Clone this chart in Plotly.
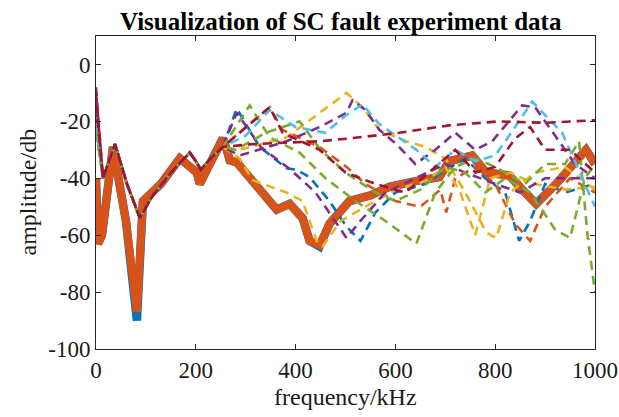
import plotly.graph_objects as go

# ---------------- data ----------------
thick_x = [0, 4, 12, 34, 60, 82, 94, 130, 168, 190, 202, 208, 230, 254, 262, 268, 282, 330, 362, 388, 414, 428, 448, 468, 508, 550, 588, 640, 688, 708, 754, 782, 828, 860, 882, 922, 982, 1000]
thick_orange_y = [-40, -63, -60, -29, -55, -87, -48, -42, -33, -36, -38, -42, -35, -26, -30, -33.7, -34.4, -44, -51, -49, -54, -62, -63.5, -56, -48, -46, -43, -41, -39.6, -34, -32, -38, -39, -45, -49, -42, -30, -35]
thick_blue_y = [-40, -63, -60, -29, -55, -90, -48, -42, -33, -36, -38, -42, -35, -26, -30, -33.7, -34.4, -44, -51, -49, -54, -62, -64, -56, -48, -46, -43, -41, -39.6, -34, -32, -38, -39, -45, -49, -42, -30, -35]

common_x = [14, 38, 62, 88, 110, 150, 188, 200, 210, 230, 254]
common_y = [-40, -28, -42, -54, -47, -38, -31, -34, -37, -33, -29]

dash_names = ["blue", "orange", "yellowA", "yellowB", "purpleA", "purpleB",
              "greenA", "greenB", "lightblue", "darkredA", "darkredB"]
dash_start = [-22, -20, -17, -18, -8, -12, -22, -24, -20, -10, -14]

blue_x = [282, 328, 382, 402, 428, 468, 502, 530, 560, 600, 660, 700, 740, 780, 820, 848, 870, 900, 940, 1000]
blue_y = [-15.5, -29, -36.5, -37, -39.6, -48, -57, -62, -52, -45, -42, -37, -33, -40, -45, -62, -55, -42, -45, -42]

orange_x = [348, 374, 448, 502, 540, 600, 650, 690, 702, 720, 760, 800, 840, 870, 900, 950, 1000]
orange_y = [-15, -23, -29, -36, -42, -48, -50, -44, -52, -40, -36, -42, -56, -62, -50, -40, -45]

yellowA_x = [288, 314, 382, 414, 442, 454, 490, 540, 600, 660, 700, 730, 760, 790, 830, 880, 940, 1000]
yellowA_y = [-33, -40.7, -45, -48, -62, -64, -55, -50, -44, -41, -36, -45, -60, -40, -38, -42, -44, -43]

yellowB_x = [288, 382, 448, 502, 534, 568, 622, 660, 700, 740, 782, 802, 830, 880, 940, 1000]
yellowB_y = [-30, -25.6, -17, -10, -15, -23, -27, -29, -33, -45, -59, -61, -45, -38, -36, -44]

purpleA_x = [288, 382, 448, 502, 514, 540, 568, 602, 640, 680, 720, 760, 794, 854, 880, 920, 960, 1000]
purpleA_y = [-32, -27, -22, -17, -12.6, -16, -23, -28, -35, -30, -24, -30, -27, -14.4, -15, -25, -35, -40]

purpleB_x = [282, 330, 390, 440, 502, 530, 580, 640, 700, 740, 800, 850, 900, 1000]
purpleB_y = [-17, -29, -37, -45, -61, -55, -45, -40, -35, -38, -42, -45, -40, -40]

greenA_x = [308, 348, 408, 460, 520, 580, 642, 680, 720, 760, 800, 860, 900, 940, 968, 985, 1000]
greenA_y = [-14.4, -25.6, -31, -40, -48, -55, -63, -45, -36, -33, -36, -42, -35, -35, -27, -60, -80]

greenB_x = [280, 340, 408, 450, 500, 560, 600, 650, 700, 740, 780, 820, 870, 920, 950, 980, 1000]
greenB_y = [-30, -24, -20, -30, -38, -45, -48, -44, -36, -38, -45, -40, -45, -58, -61, -40, -35]

lightblue_x = [300, 348, 400, 460, 500, 534, 568, 642, 680, 720, 760, 800, 840, 874, 934, 970, 1000]
lightblue_y = [-25, -16, -22, -24, -18, -14, -21, -30, -36, -30, -34, -32, -22, -13, -24, -38, -50]

darkredA_x = [314, 448, 508, 608, 708, 768, 808, 900, 1000]
darkredA_y = [-28, -27, -26, -24, -21.4, -20.7, -20, -20.5, -19.6]

darkredB_x = [348, 374, 448, 500, 560, 620, 680, 720, 760, 800, 840, 870, 900, 950, 1000]
darkredB_y = [-15, -24, -30, -38, -42, -45, -36, -30, -38, -36, -26, -22, -30, -30, -38]

dash_tails = {
    "blue": (blue_x, blue_y), "orange": (orange_x, orange_y),
    "yellowA": (yellowA_x, yellowA_y), "yellowB": (yellowB_x, yellowB_y),
    "purpleA": (purpleA_x, purpleA_y), "purpleB": (purpleB_x, purpleB_y),
    "greenA": (greenA_x, greenA_y), "greenB": (greenB_x, greenB_y),
    "lightblue": (lightblue_x, lightblue_y),
    "darkredA": (darkredA_x, darkredA_y), "darkredB": (darkredB_x, darkredB_y),
}

x_ticks = [0, 200, 400, 600, 800, 1000]
x_tick_labels = ["0", "200", "400", "600", "800", "1000"]
y_ticks = [-100, -80, -60, -40, -20, 0]
y_tick_labels = ["-100", "-80", "-60", "-40", "-20", "0"]

title_text = "Visualization of SC fault experiment data"
x_label = "frequency/kHz"
y_label = "amplitude/db"

# ---------------- styles ----------------
colors = {"blue": "#0072BD", "orange": "#D95319", "yellowA": "#EDB120", "yellowB": "#EDB120",
          "purpleA": "#7E2F8E", "purpleB": "#7E2F8E", "greenA": "#77AC30", "greenB": "#77AC30",
          "lightblue": "#4DBEEE", "darkredA": "#A2142F", "darkredB": "#A2142F"}

fig = go.Figure()

fig.add_trace(go.Scatter(x=thick_x, y=thick_blue_y, mode="lines",
                         line=dict(color="#0072BD", width=8.5), showlegend=False,
                         hoverinfo="skip"))
fig.add_trace(go.Scatter(x=thick_x, y=thick_orange_y, mode="lines",
                         line=dict(color="#D95319", width=8), showlegend=False,
                         hoverinfo="skip"))

for name, s0 in zip(dash_names, dash_start):
    tx, ty = dash_tails[name]
    xs = [0] + common_x + tx
    ys = [s0] + common_y + ty
    fig.add_trace(go.Scatter(x=xs, y=ys, mode="lines",
                             line=dict(color=colors[name], width=2.6, dash="9px,6px"),
                             showlegend=False, hoverinfo="skip"))

font_family = "Liberation Serif, Times New Roman, serif"
axis_common = dict(showline=True, linecolor="#262626", linewidth=1, mirror="allticks",
                   ticks="inside", ticklen=5, tickcolor="#262626", showgrid=False,
                   zeroline=False, automargin=False, ticklabeloverflow="allow",
                   tickfont=dict(family=font_family, size=23, color="#1a1a1a"))

fig.update_layout(
    width=619, height=417,
    margin=dict(l=96, r=24, t=36, b=68),
    paper_bgcolor="white", plot_bgcolor="white",
    hovermode=False,
    xaxis=dict(range=[0, 1000], tickvals=x_ticks, ticktext=x_tick_labels, **axis_common),
    yaxis=dict(range=[-100, 10], tickvals=y_ticks, ticktext=y_tick_labels, **axis_common),
    annotations=[
        dict(text="<b>" + title_text + "</b>", xref="paper", yref="paper", x=0.49, y=1.0,
             xanchor="center", yanchor="bottom", yshift=-1, showarrow=False,
             font=dict(family=font_family, size=25, color="black")),
        dict(text=x_label, xref="paper", yref="paper", x=0.5, y=0, xanchor="center",
             yanchor="top", yshift=-33, showarrow=False,
             font=dict(family=font_family, size=24, color="#1a1a1a")),
        dict(text=y_label, xref="paper", yref="paper", x=0, y=0.5, xanchor="center",
             yanchor="middle", xshift=-69, textangle=-90, showarrow=False,
             font=dict(family=font_family, size=24, color="#1a1a1a")),
    ],
)

# remove the default page margin so the figure fills the 619x417 window exactly
fig.write_html("out.html", config={"displayModeBar": False, "staticPlot": True},
               post_script="document.body.style.margin='0';document.body.style.overflow='hidden';")
